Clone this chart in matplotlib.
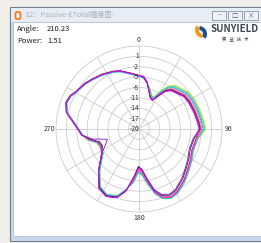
import numpy as np
import matplotlib
matplotlib.use("Agg")
import matplotlib.pyplot as plt
from matplotlib.patches import Rectangle, Wedge, FancyBboxPatch

plt.rcParams['font.family'] = ['Noto Sans CJK SC', 'DejaVu Sans']

# angle (deg, clockwise from north) and power (dB) for each measured curve
angles = [0, 5, 10, 15, 20, 25, 30, 35, 40, 47, 54, 62, 73, 84, 90, 100, 111, 121, 130, 139,
          149, 155, 161, 166, 171, 176, 181, 186, 192, 198, 206, 214, 224, 236, 246, 252, 258,
          264, 273, 283, 290, 296, 300, 310, 317, 326, 336, 342, 351, 360]

magenta = [-4.6, -4.6, -6.1, -8.9, -10.5, -10.9, -9.2, -6.8, -5.6, -5.0, -4.1, -3.8, -3.5, -3.0, -2.7,
           -3.3, -3.6, -2.7, -1.7, -0.3, 1.2, 1.6, 0.8, -1.2, -5.0, -7.8, -8.6, -5.6, -1.6, 0.9, 1.7,
           0.7, -3.1, -6.9, -8.0, -7.6, -5.3, -3.4, -1.7, 1.5, 2.4, 2.0, 1.2, 0.4, -0.3, -1.0, -1.8,
           -2.4, -3.7, -4.6]
purple = [-4.5, -5.0, -6.5, -8.8, -10.4, -10.8, -9.0, -6.6, -5.4, -4.8, -3.9, -3.6, -3.3, -2.8, -2.5,
          -4.1, -4.4, -3.5, -2.5, -1.1, 0.4, 0.8, 0.0, -2.0, -5.6, -8.4, -9.2, -6.2, -1.6, 0.9, 1.7,
          0.7, -3.1, -6.9, -9.5, -10.4, -6.1, -3.3, -1.6, 1.6, 2.5, 2.1, 1.3, 0.5, -0.2, -0.9, -1.7,
          -2.3, -3.6, -4.5]
black = [-4.6, -5.0, -6.5, -8.7, -10.3, -10.7, -8.8, -6.4, -5.2, -4.6, -3.7, -3.4, -3.1, -2.6, -2.3,
         -3.8, -4.1, -3.2, -2.2, -0.8, 0.7, 1.1, 0.3, -1.7, -5.4, -8.2, -9.0, -6.0, -1.8, 0.7, 1.5,
         0.5, -3.3, -7.1, -8.4, -8.0, -5.7, -3.4, -1.7, 1.5, 2.4, 2.0, 1.2, 0.4, -0.3, -1.0, -1.8,
         -2.4, -3.7, -4.6]
red = [-4.7, -5.0, -6.5, -8.6, -10.2, -10.6, -8.6, -6.2, -5.0, -4.4, -3.5, -3.2, -2.9, -2.4, -2.1,
       -3.2, -3.5, -2.6, -1.6, -0.2, 1.3, 1.7, 0.9, -1.1, -4.8, -7.6, -8.4, -5.4, -1.7, 0.8, 1.6,
       0.6, -3.2, -7.0, -8.2, -7.8, -5.5, -3.5, -1.8, 1.4, 2.3, 1.9, 1.1, 0.3, -0.4, -1.1, -1.9,
       -2.5, -3.8, -4.7]
pink = [-4.5, -5.0, -6.5, -8.5, -10.1, -10.5, -8.3, -5.9, -4.7, -4.1, -3.2, -2.9, -2.6, -2.1, -1.8,
        -3.1, -3.4, -2.5, -1.5, -0.1, 1.4, 1.8, 1.0, -1.0, -4.5, -7.3, -8.1, -5.1, -1.6, 0.9, 1.7,
        0.7, -3.1, -6.9, -8.0, -7.6, -5.3, -3.3, -1.6, 1.6, 2.5, 2.1, 1.3, 0.5, -0.2, -0.9, -1.7,
        -2.3, -3.6, -4.5]
blue = [-4.8, -5.0, -6.5, -8.3, -9.9, -10.3, -8.0, -5.6, -4.4, -3.8, -2.9, -2.6, -2.3, -1.8, -1.5,
        -3.0, -3.3, -2.4, -1.4, 0.0, 1.5, 1.9, 1.1, -0.9, -4.2, -7.0, -7.8, -4.8, -2.0, 0.5, 1.3,
        0.3, -3.5, -7.3, -7.8, -7.4, -5.1, -3.6, -1.9, 1.3, 2.2, 1.8, 1.0, 0.2, -0.5, -1.2, -2.0,
        -2.6, -3.9, -4.8]
cyan = [-4.8, -5.0, -6.5, -8.2, -9.8, -10.2, -7.7, -5.3, -4.1, -3.5, -2.6, -2.3, -2.0, -1.5, -1.2,
        -2.8, -3.1, -2.2, -1.2, 0.2, 1.7, 2.1, 1.3, -0.7, -3.8, -6.6, -7.4, -4.4, -2.2, 0.3, 1.1,
        0.1, -3.7, -7.5, -7.7, -7.3, -5.0, -3.6, -1.9, 1.3, 2.2, 1.8, 1.0, 0.2, -0.5, -1.2, -2.0,
        -2.6, -3.9, -4.8]
green = [-4.5, -5.0, -6.5, -8.0, -9.6, -10.0, -7.4, -5.0, -3.8, -3.2, -2.3, -2.0, -1.7, -1.2, -0.9,
         -2.9, -3.2, -2.3, -1.3, 0.1, 1.6, 2.0, 1.2, -0.8, -4.0, -6.8, -7.6, -4.6, -2.1, 0.4, 1.2,
         0.2, -3.6, -7.4, -7.6, -7.2, -4.9, -3.3, -1.6, 1.6, 2.5, 2.1, 1.3, 0.5, -0.2, -0.9, -1.7,
         -2.3, -3.6, -4.5]
yellow = [-4.4, -5.0, -6.5, -7.8, -9.4, -9.8, -7.1, -4.7, -3.5, -2.9, -2.0, -1.7, -1.4, -0.9, -0.6,
          -2.7, -3.0, -2.1, -1.1, 0.3, 1.8, 2.2, 1.4, -0.6, -3.6, -6.4, -7.2, -4.2, -2.3, 0.2, 1.0,
          0.0, -3.8, -7.6, -7.4, -7.0, -4.7, -3.2, -1.5, 1.7, 2.6, 2.2, 1.4, 0.6, -0.1, -0.8, -1.6,
          -2.2, -3.5, -4.4]

series = [yellow, green, blue, pink, red, black, cyan, purple, magenta]
colors = ['#e6e636', '#5ad05a', '#4070ff', '#ff8cb8', '#f04040', '#282828', '#18d4dc', '#7a10c8', '#f000f0']

r_ticks = [-17, -14, -11, -8, -5, -2, 1]

W, H = 261, 243
fig = plt.figure(figsize=(W / 100, H / 100), dpi=100)
fig.patch.set_facecolor('#efeee8')

# window chrome drawn in pixel coordinates
bg = fig.add_axes([0, 0, 1, 1])
bg.set_xlim(0, W)
bg.set_ylim(H, 0)
bg.axis('off')
bg.add_patch(Rectangle((10, 7), 260, 234, facecolor='#c9d8e8', edgecolor='#6f7f90', lw=0.8))
bg.add_patch(Rectangle((11, 8), 260, 14, facecolor='#e6edf5', edgecolor='none'))
bg.add_patch(Rectangle((13, 22), 260, 214, facecolor='white', edgecolor='#aab8c8', lw=0.5))
bg.add_patch(FancyBboxPatch((15.5, 12), 5, 7, boxstyle='round,pad=0,rounding_size=1.5',
                            facecolor='none', edgecolor='#f08020', lw=1.3))
bg.text(25, 15.5, 'E2：Passive-ETotal幅度图-', fontsize=5.2, color='#a8aeb6', va='center')
for bx, sym in zip([212, 228, 244], ['–', '□', '×']):
    bg.add_patch(Rectangle((bx, 11), 14, 9, facecolor='#eef2f7', edgecolor='#8a96a4', lw=0.6))
    bg.text(bx + 7, 15.5, sym, fontsize=4.5, color='#505a66', ha='center', va='center')

bg.text(17, 29, 'Angle:', fontsize=5.5, color='#202020', va='center')
bg.text(47, 29, '210.23', fontsize=5.5, color='#202020', va='center')
bg.text(17, 41, 'Power:', fontsize=5.5, color='#202020', va='center')
bg.text(47, 41, '1.51', fontsize=5.5, color='#202020', va='center')

# logo swirl
bg.add_patch(Wedge((203, 30), 8, 95, 215, width=4, facecolor='#f39a1e', edgecolor='none'))
bg.add_patch(Wedge((199, 34), 8, 275, 35, width=4, facecolor='#1f4f8f', edgecolor='none'))
bg.text(235, 29, 'SUNYIELD', fontsize=7, fontweight='bold', color='#3c4654', ha='center', va='center')
bg.text(235, 38.5, '赛   益   技   术', fontsize=3.2, color='#3c4654', ha='center', va='center')

# polar chart
cx, cy, R = 139, 129, 83
ax = fig.add_axes([(cx - R) / W, 1 - (cy + R) / H, 2 * R / W, 2 * R / H], projection='polar')
ax.set_facecolor('none')
ax.set_theta_zero_location('N')
ax.set_theta_direction(-1)
ax.set_ylim(-20, 4)

theta = np.deg2rad(angles)
for vals, c in zip(series, colors):
    ax.plot(theta, vals, color=c, lw=0.6)

ax.set_thetagrids(np.arange(0, 360, 30), ['' if a % 90 else str(a) for a in range(0, 360, 30)],
                  fontsize=5, color='#303030')
ax.tick_params(axis='x', pad=-6)
ax.set_rgrids(r_ticks, labels=[])
ax.grid(color='#cccccc', lw=0.6)
ax.spines['polar'].set_color('#cccccc')
ax.spines['polar'].set_linewidth(0.6)
for v in r_ticks + [-20]:
    ax.text(0, v, str(v), fontsize=4.8, color='#303030', ha='right', va='center')

fig.savefig('out.png', dpi=100, facecolor=fig.get_facecolor())
